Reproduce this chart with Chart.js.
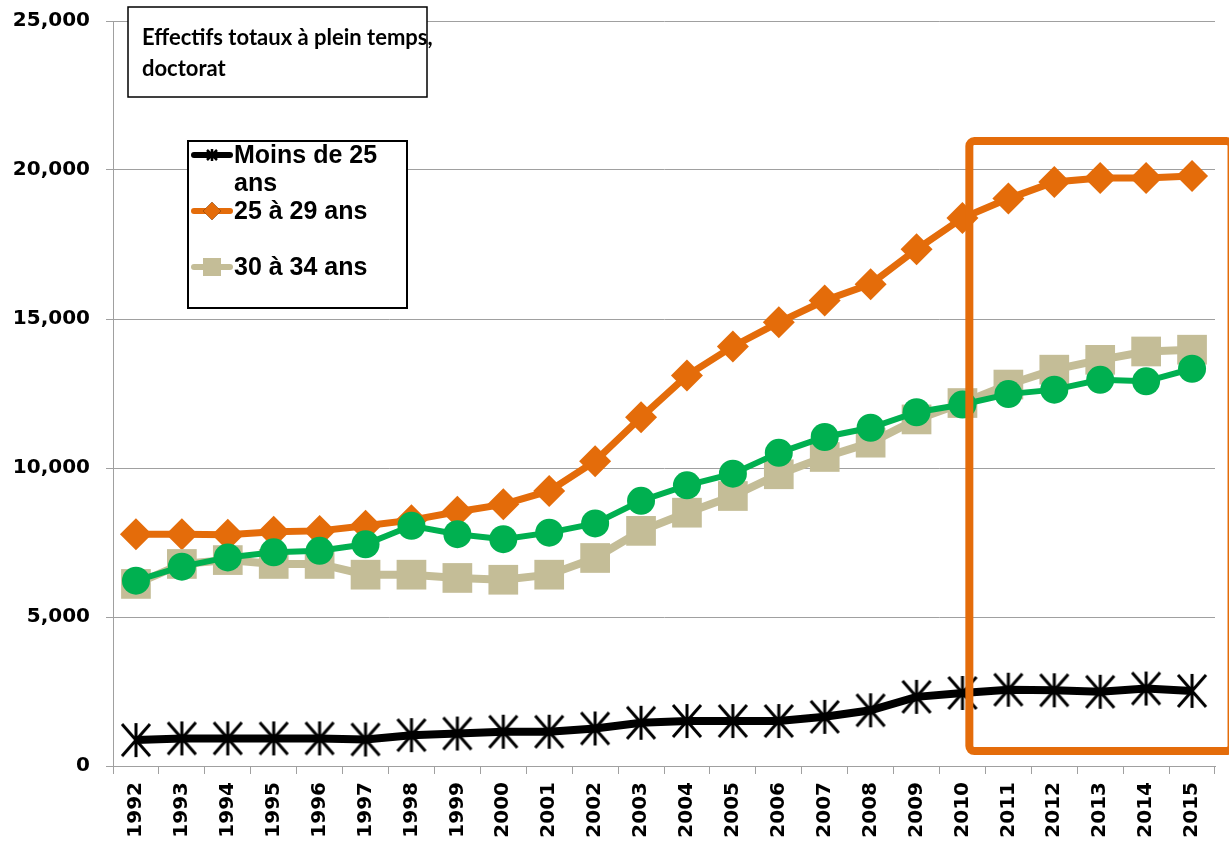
<!DOCTYPE html>
<html lang="fr">
<head>
<meta charset="utf-8">
<title>Effectifs totaux à plein temps, doctorat</title>
<script src="https://cdn.jsdelivr.net/npm/chart.js@4/dist/chart.umd.min.js"></script>
<style>
  html, body { margin: 0; padding: 0; background: #fff; }
  canvas { display: block; }
</style>
</head>
<body>
<canvas id="chart" width="1229" height="841"></canvas>
<script>
// Years on the x axis
const years = ['1992', '1993', '1994', '1995', '1996', '1997', '1998', '1999', '2000', '2001', '2002', '2003',
               '2004', '2005', '2006', '2007', '2008', '2009', '2010', '2011', '2012', '2013', '2014', '2015'];

// Values
const moins25 = [870, 925, 925, 925, 925, 890, 1035, 1090, 1150, 1150, 1260, 1450,
                 1510, 1510, 1510, 1650, 1870, 2320, 2450, 2560, 2540, 2490, 2600, 2520];
const age25a29 = [7780, 7780, 7760, 7860, 7890, 8060, 8250, 8530, 8780, 9230, 10230, 11700,
                  13100, 14080, 14890, 15620, 16170, 17340, 18390, 19040, 19600, 19730, 19730, 19800];
const age30a34 = [6110, 6780, 6910, 6780, 6780, 6420, 6420, 6310, 6250, 6420, 6980, 7890,
                  8500, 9060, 9790, 10370, 10850, 11630, 12180, 12800, 13300, 13630, 13910, 13970];
const age35plus = [6220, 6690, 7000, 7170, 7220, 7440, 8060, 7780, 7610, 7830, 8140, 8900,
                   9420, 9810, 10510, 11040, 11350, 11870, 12130, 12480, 12630, 12960, 12910, 13330];

const yTicks = [0, 5000, 10000, 15000, 20000, 25000];

const ORANGE = '#E46C0A';
const GREEN = '#00B050';
const TAN = '#C4BD97';
const GRID = '#A0A0A0';

// Excel-like star marker: an X with a vertical bar
function makeStar(w, h, lw) {
    const c = document.createElement('canvas');
    c.width = w; c.height = h;
    const g = c.getContext('2d');
    g.strokeStyle = '#000';
    g.lineWidth = lw;
    g.beginPath();
    g.moveTo(w / 2, 1); g.lineTo(w / 2, h - 1);
    g.moveTo(2, 2); g.lineTo(w - 2, h - 2);
    g.moveTo(w - 2, 2); g.lineTo(2, h - 2);
    g.stroke();
    return c;
}
const starMarker = makeStar(32, 36, 3);

// Title box, legend box and the highlight frame drawn on top
const overlayPlugin = {
    id: 'overlay',
    afterDraw(chart) {
        const ctx = chart.ctx;
        const xs = chart.scales.x;
        const ys = chart.scales.y;
        ctx.save();

        // highlight frame 2010-2015
        const x1 = xs.getPixelForValue(18.15);
        const x2 = xs.getPixelForValue(23.86);
        const y1 = ys.getPixelForValue(20970);
        const y2 = ys.getPixelForValue(500);
        ctx.strokeStyle = ORANGE;
        ctx.lineWidth = 8;
        ctx.beginPath();
        ctx.roundRect(x1, y1, x2 - x1, y2 - y1, 5);
        ctx.stroke();

        // title box
        ctx.fillStyle = '#fff';
        ctx.fillRect(128, 7, 299, 90);
        ctx.strokeStyle = '#000';
        ctx.lineWidth = 1.5;
        ctx.strokeRect(128, 7, 299, 90);
        ctx.fillStyle = '#000';
        ctx.font = 'bold 22px Lato';
        ctx.textAlign = 'left';
        ctx.textBaseline = 'alphabetic';
        ctx.fillText('Effectifs totaux à plein temps,', 142, 45);
        ctx.fillText('doctorat', 142, 76);

        // legend box
        ctx.fillStyle = '#fff';
        ctx.fillRect(188, 141, 219, 167);
        ctx.strokeStyle = '#000';
        ctx.lineWidth = 2;
        ctx.strokeRect(188, 141, 219, 167);

        const entries = [
            { ds: 0, lines: ['Moins de 25', 'ans'], y: 155 },
            { ds: 1, lines: ['25 à 29 ans'], y: 211 },
            { ds: 2, lines: ['30 à 34 ans'], y: 267 }
        ];
        entries.forEach(e => {
            const d = chart.data.datasets[e.ds];
            ctx.strokeStyle = d.borderColor;
            ctx.lineWidth = 6;
            ctx.lineCap = 'round';
            ctx.beginPath();
            ctx.moveTo(194, e.y);
            ctx.lineTo(230, e.y);
            ctx.stroke();
            ctx.lineCap = 'butt';
            if (e.ds === 0) {
                ctx.drawImage(makeStar(14, 14, 2.5), 205, e.y - 7);
            } else if (e.ds === 1) {
                Chart.helpers.drawPoint(ctx, { pointStyle: 'rectRot', radius: 9, borderWidth: 0 }, 212, e.y);
                ctx.fillStyle = ORANGE;
                ctx.fill();
            } else {
                ctx.fillStyle = TAN;
                ctx.fillRect(203, e.y - 9, 18, 18);
            }
            ctx.fillStyle = '#000';
            ctx.font = 'bold 25px "Liberation Sans", Arial';
            e.lines.forEach((t, i) => ctx.fillText(t, 234, e.y + 8 + i * 28));
        });
        ctx.restore();
    }
};

function initChart() {
    const ctx = document.getElementById('chart').getContext('2d');
    new Chart(ctx, {
        type: 'line',
        data: {
            labels: years,
            datasets: [{
                label: 'Moins de 25 ans',
                data: moins25,
                borderColor: '#000',
                backgroundColor: '#000',
                borderWidth: 8,
                pointStyle: starMarker,
                order: 3
            }, {
                label: '25 à 29 ans',
                data: age25a29,
                borderColor: ORANGE,
                backgroundColor: ORANGE,
                borderWidth: 7,
                pointStyle: 'rectRot',
                pointRadius: 16,
                pointBorderWidth: 0,
                order: 2
            }, {
                label: '30 à 34 ans',
                data: age30a34,
                borderColor: TAN,
                backgroundColor: TAN,
                borderWidth: 8,
                pointStyle: 'rect',
                pointRadius: 21,
                pointBorderWidth: 0,
                order: 1
            }, {
                label: '35 ans et plus',
                data: age35plus,
                borderColor: GREEN,
                backgroundColor: GREEN,
                borderWidth: 6,
                pointStyle: 'circle',
                pointRadius: 14,
                pointBorderWidth: 0,
                order: 0
            }]
        },
        options: {
            responsive: false,
            animation: false,
            layout: {
                autoPadding: false,
                padding: { top: 21, right: 14, left: 0, bottom: 0 }
            },
            plugins: {
                legend: { display: false },
                tooltip: { enabled: false }
            },
            scales: {
                x: {
                    offset: true,
                    afterFit: s => {
                        s.height = 75;
                        s.paddingLeft = 0;
                        s.paddingRight = 0;
                    },
                    grid: {
                        offset: true,
                        drawOnChartArea: false,
                        tickLength: 8,
                        color: GRID
                    },
                    border: { color: GRID, width: 1 },
                    ticks: {
                        minRotation: 90,
                        maxRotation: 90,
                        padding: 8,
                        color: '#000',
                        font: { family: '"DejaVu Sans"', size: 20, weight: 'bold' }
                    }
                },
                y: {
                    min: 0,
                    max: 25000,
                    afterFit: s => {
                        s.width = 113;
                        s.paddingTop = 0;
                        s.paddingBottom = 0;
                    },
                    afterBuildTicks: s => { s.ticks = yTicks.map(v => ({ value: v })); },
                    grid: { color: GRID, tickLength: 7 },
                    border: { color: GRID, width: 1 },
                    ticks: {
                        padding: 16,
                        color: '#000',
                        font: { family: '"DejaVu Sans"', size: 20, weight: 'bold' },
                        callback: v => v.toLocaleString('en-US')
                    }
                }
            }
        },
        plugins: [overlayPlugin]
    });
}

window.addEventListener('load', initChart);
</script>
</body>
</html>
